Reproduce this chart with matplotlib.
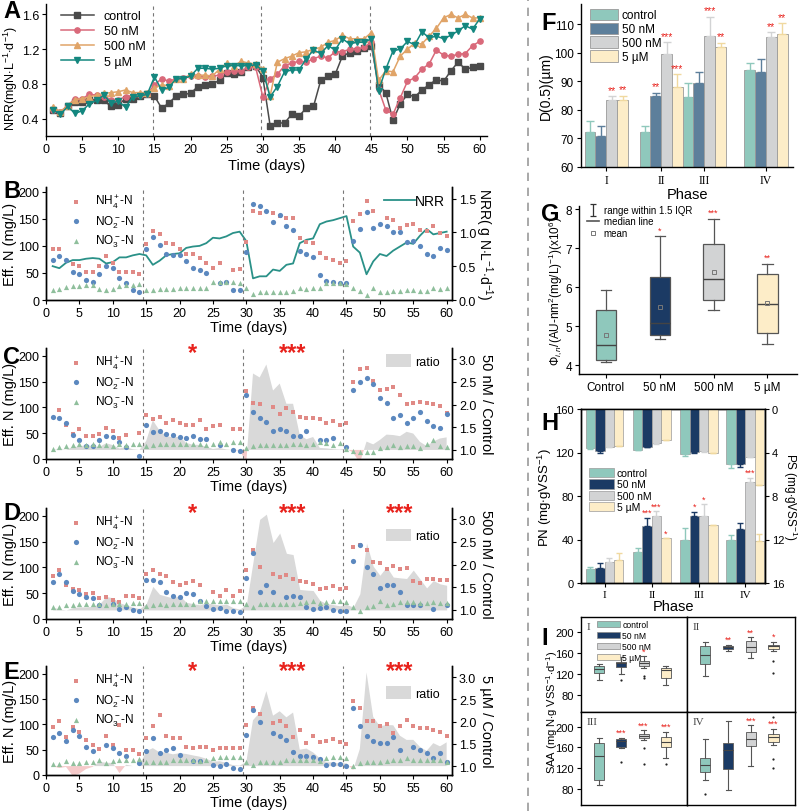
import numpy as np
import matplotlib
matplotlib.use('Agg')
import matplotlib.pyplot as plt
from matplotlib.patches import Patch
from matplotlib.lines import Line2D
from matplotlib.path import Path

plt.rcParams['font.family'] = ['Liberation Sans', 'DejaVu Sans']
plt.rcParams['mathtext.fontset'] = 'custom'
plt.rcParams['mathtext.rm'] = 'Liberation Sans'
plt.rcParams['mathtext.it'] = 'Liberation Sans:italic'
plt.rcParams['mathtext.bf'] = 'Liberation Sans:bold'
plt.rcParams['axes.linewidth'] = 1.0
plt.rcParams['xtick.major.size'] = 3
plt.rcParams['ytick.major.size'] = 3
plt.rcParams['xtick.major.pad'] = 2
plt.rcParams['ytick.major.pad'] = 2

nan = np.nan
days = np.arange(1, 61)

# ---------- A: nitrogen removal rate (mgN/L/d) ----------
nrr_ctrl = [0.50, 0.47, 0.55, 0.59, 0.59, 0.61, 0.62, 0.61, 0.54, 0.56, 0.63, 0.63, 0.66, 0.68,
            0.66, 0.52, 0.58, 0.66, 0.68, 0.69, 0.77, 0.79, 0.80, 0.84, 0.92, 0.91, 0.94, 0.99, 1.01,
            0.87, 0.32, 0.35, 0.35, 0.45, 0.43, 0.52, 0.54, 0.84, 0.89, 0.91, 1.12, 1.16, 1.18, 1.21, 1.24,
            0.79, 0.70, 0.38, 0.57, 0.68, 0.65, 0.73, 0.79, 0.85, 0.83, 0.95, 1.05, 0.97, 0.99, 1.01]
nrr_50n = [0.50, 0.48, 0.55, 0.63, 0.63, 0.68, 0.67, 0.65, 0.62, 0.62, 0.65, 0.67, 0.67, 0.68,
           0.79, 0.86, 0.83, 0.86, 0.87, 0.89, 0.89, 0.88, 0.89, 0.90, 0.94, 0.95, 0.95, 0.99, 0.99,
           0.65, 0.86, 0.91, 1.01, 1.04, 1.06, 1.05, 1.09, 1.12, 1.10, 1.17, 1.17, 1.20, 1.20, 1.22, 1.28,
           0.74, 0.50, 0.45, 0.64, 0.83, 0.87, 0.97, 1.03, 1.19, 1.13, 1.12, 1.14, 1.15, 1.24, 1.29]
nrr_500n = [0.53, 0.48, 0.55, 0.62, 0.63, 0.65, 0.67, 0.69, 0.70, 0.71, 0.73, 0.70, 0.70, 0.70,
            0.75, 0.79, 0.78, 0.86, 0.86, 0.91, 0.90, 0.90, 0.89, 0.97, 1.04, 1.01, 1.06, 1.04, 1.03,
            0.97, 0.66, 1.05, 1.09, 1.12, 1.16, 1.17, 1.20, 1.22, 1.28, 1.30, 1.36, 1.32, 1.32, 1.32, 1.39,
            0.84, 0.95, 0.94, 1.12, 1.20, 1.27, 1.26, 1.35, 1.44, 1.56, 1.60, 1.56, 1.60, 1.56, 1.56]
nrr_5u = [0.50, 0.45, 0.54, 0.46, 0.49, 0.57, 0.61, 0.67, 0.58, 0.60, 0.53, 0.65, 0.66, 0.68,
          0.88, 0.73, 0.76, 0.86, 0.86, 0.89, 0.98, 0.98, 0.97, 0.98, 1.01, 1.01, 1.01, 1.01, 1.02,
          0.95, 0.65, 0.77, 0.94, 0.96, 0.96, 1.09, 1.19, 1.15, 1.24, 1.19, 1.32, 1.26, 1.28, 1.28, 1.32,
          0.72, 0.97, 1.18, 1.20, 1.29, 1.25, 1.40, 1.33, 1.35, 1.32, 1.36, 1.41, 1.47, 1.43, 1.55]

# ---------- B-E: effluent N (mg/L) ----------
nh4_ctrl = [94, 95, nan, 67, 63, 51, 52, 62, 81, 69, 52, 52, 52, 48,
            103, 128, 122, 106, 103, 94, 85, 86, 78, 69, 60, 68, nan, 56, 58,
            108, 165, 160, nan, 160, 155, 152, 152, 114, 108, 105, 87, 77, 74, 69, 72,
            147, 159, 183, 164, nan, 152, 148, 134, 138, 141, 129, 127, 137, 123, 118]
no2_ctrl = [74, 81, 74, 51, 48, 37, 33, 49, 62, 59, 41, 31, 19, 15,
            94, 117, 101, 86, 83, 83, 72, 60, 56, 50, nan, 32, 33, 18, 18,
            88, 177, 174, 165, 145, 157, 137, 129, 91, 85, 80, 46, 35, 33, 32, 31,
            110, 131, 162, 134, 141, 137, 125, 125, 108, 110, 99, 86, 81, 96, 92]
no3_ctrl = [18, 21, 24, 25, 26, 27, 27, 20, 18, 20, 26, 27, 28, 29,
            19, 19, 20, 20, 21, 23, 23, 23, 23, 23, 33, 33, 33, 33, 32,
            23, 12, 14, 15, 15, 14, 15, 17, 23, 20, 23, 23, 32, 32, 31, 30,
            22, 17, 10, 23, 14, 15, 17, 17, 18, 18, 17, 17, 23, 20, 23]

nh4_50n = [nan, 95, 65, 48, 59, 44, 45, 48, 60, 54, 41, 47, nan, 50,
           85, 77, 81, 70, 75, 69, 66, 65, 75, 59, 63, 65, nan, 58, 58,
           131, 108, 106, nan, 100, 88, 98, 92, 81, 79, 79, 77, 70, 74, 66, 70,
           150, 174, 177, 152, 134, 135, 139, 123, 106, 108, 111, 108, 106, 102, 90]
no2_50n = [81, 80, 70, 46, 37, 25, 26, 37, 45, 43, 32, 24, nan, 5,
           66, 53, 55, 48, 46, 43, 41, 44, 39, 39, nan, 27, nan, 17, 15,
           124, 92, 79, 71, 55, 59, 54, 45, 45, 55, nan, 37, 37, 40, nan, 24,
           134, 150, 156, 145, 119, 108, 79, 86, 70, 79, 92, 74, 63, 60, 88]
no3_50n = [19, 23, 26, 28, 30, 28, 30, 27, 28, 26, 30, 28, 29, 30,
           25, 28, 30, 29, 30, 29, 30, 29, 29, 28, 30, 32, 30, 33, 33,
           21, 25, 27, 28, 27, 28, 27, 29, 30, 28, 29, 32, 31, 27, 31, 19,
           15, 14, 14, 14, 21, 23, 28, 23, 26, 26, 21, 30, 37, 26, 23]

nh4_500n = [84, 94, 66, 58, 56, 48, 50, 41, 43, 37, 32, 44, 44, 41,
            87, 95, 87, 83, 71, 66, 69, 73, 65, nan, 52, 45, 57, 45, 54,
            95, 134, 100, nan, 87, 82, 86, 77, 73, 71, 68, 58, 61, 63, 59, 61,
            140, 144, 134, 110, 108, 97, 102, 97, 98, 74, 69, 77, 77, 76, 76]
no2_500n = [71, 87, 71, 55, 48, 43, 41, 28, nan, 30, 19, 24, 17, 16,
            75, 76, 72, 52, 45, 42, 50, 48, 34, 25, 19, 21, 15, 15, 14,
            79, 128, 52, 66, 53, nan, 42, 44, 43, 24, 19, 21, 23, 17, 16, 16,
            113, 144, 100, 87, 61, 66, 65, 52, 27, 27, 27, nan, 19, nan, 28]
no3_500n = [23, 24, 27, 28, 29, 29, 30, 30, 28, 29, 30, 30, 31, 31,
            26, 27, 29, 28, 30, 30, 29, 30, 34, 34, 34, 34, 34, 34, 34,
            29, 23, 29, 29, 29, 29, 30, 30, 31, 32, 34, 31, 32, 34, 34, 32,
            24, 16, 23, 26, 34, 28, 29, 32, 32, 32, 31, 31, 32, 31, 31]

nh4_5u = [94, 106, 74, 95, 85, 69, 60, 51, 76, 60, 98, 50, 50, 41,
          73, 96, 118, 77, 73, 72, 56, 54, 56, 56, 50, 54, 54, 53, 54,
          99, 133, 120, nan, 102, 107, 96, 74, 89, 64, 77, 66, 68, 71, 66, 61,
          146, 132, 106, 106, 96, 100, 83, 96, 108, 97, 92, 92, 89, 84, 77]
no2_5u = [74, 83, 68, 89, 77, 56, 47, nan, 59, 53, 43, 38, nan, 24,
          48, 73, 43, 50, 53, 40, nan, 28, 28, nan, 20, 18, 22, 13, 12,
          79, 128, 105, nan, 82, 76, 70, 46, 38, 38, 35, 31, 20, 22, 22, 18,
          133, 96, 76, 68, 63, 64, 74, 50, nan, 56, 50, 43, 33, 43, 26]
no3_5u = [22, 22, 27, 23, 23, 25, 26, 30, 24, 27, 30, 30, 30, 31,
          26, 26, 26, 26, 30, 30, 30, 30, 28, 30, 33, 35, 35, 35, 35,
          26, 20, 25, 25, 26, 25, 30, 30, 30, 30, 30, 27, 33, 35, 35, 33,
          18, 24, 25, 25, 26, 27, 30, 30, 33, 30, 30, 30, 30, 30, 26]

# ---------- F: D(0.5) (um) per phase ----------
phases = ['I', 'II', 'III', 'IV']
groups = ['control', '50 nM', '500 nM', '5 µM']
d50_mean = [[72.2, 70.7, 83.3, 83.3], [72.3, 84.8, 99.6, 87.9],
            [84.6, 89.2, 105.8, 101.9], [93.9, 93.1, 105.4, 106.4]]
d50_err = [[4.0, 3.7, 1.4, 1.5], [1.9, 1.2, 4.0, 4.5],
           [4.9, 3.9, 6.8, 1.5], [2.3, 4.5, 1.7, 3.8]]
d50_sig = [['', '', '**', '**'], ['', '**', '***', '***'],
           ['', '', '***', '**'], ['', '', '**', '**']]

# ---------- G: Phi boxplot ----------
g_cats = ['Control', '50 nM', '500 nM', '5 µM']
g_lo = [4.08, 4.68, 5.40, 4.55]
g_q1 = [4.12, 4.78, 5.66, 4.82]
g_med = [4.52, 5.07, 6.20, 5.57]
g_q3 = [5.40, 6.27, 7.10, 6.33]
g_hi = [5.92, 7.30, 7.75, 6.60]
g_mean = [4.76, 5.50, 6.38, 5.58]
g_sig = ['', '*', '***', '**']

# ---------- H: PN / PS ----------
pn_mean = [[13, 13.5, 19, 21], [28.5, 52.5, 61.5, 41], [39.5, 62, 62, 53.5], [39.5, 49.5, 92.5, 38.5]]
pn_err = [[1.5, 4.5, 4, 7], [3.5, 7.5, 4.5, 0], [11, 3.5, 10.5, 0], [4.5, 5.5, 4, 6.5]]
pn_sig = [['', '', '', ''], ['', '***', '***', '*'], ['', '*', '*', ''], ['', '', '***', '']]
ps_mean = [[3.58, 3.88, 3.46, 3.43], [3.73, 3.46, 3.15, 2.81], [4.16, 3.95, 3.88, 4.04], [5.08, 5.05, 4.37, 6.97]]
ps_err = [[0.09, 0.12, 0.05, 0.0], [0.05, 0.05, 0.06, 0.0], [0.18, 0.08, 0.03, 0.03], [0.3, 0.3, 0.05, 0.0]]

# ---------- I: SAA boxplots (per phase: control, 50 nM, 500 nM, 5 uM) ----------
saa_lo = [[109, 120, 131, 100], [116, 164, 151, 164], [86, 159, 175, 140], [97, 77, 124, 165]]
saa_q1 = [[123, 133, 136, 112], [139, 168, 162, 168], [96, 160, 178, 160], [113, 119, 163, 171]]
saa_med = [[130, 141, 141, 128], [157, 171, 172, 173], [143, 172, 182, 170], [125, 155, 176, 181]]
saa_q3 = [[135, 144, 144.5, 132], [174.5, 173, 183, 176], [168, 176, 186, 181], [140, 168, 191, 186]]
saa_hi = [[139, 152, 154, 136], [181, 176, 190, 181], [179, 178, 193, 190], [176, 211, 203, 196]]
saa_out = [[[], [109], [117, 112], []], [[], [], [], [146, 122]],
           [[], [132], [158, 128], [128]], [[70], [], [], [219, 137, 120]]]
saa_sig = [['', '', '*', ''], ['', '**', '**', '*'], ['', '***', '***', '***'], ['', '', '***', '***']]

# ---------- styles ----------
line_cols = ['#4a4a4a', '#d9697a', '#e0a468', '#14877f']
line_mk = ['s', 'o', '^', 'v']
c_nh4, c_no2, c_no3 = '#e08a86', '#5b88bf', '#8fbf9c'
c_nrr = '#2a9188'
bar_cols_F = ['#8fc8bc', '#5d7f9b', '#d2d3d4', '#fdedc8']
bar_cols = ['#8fc8bc', '#1b3a64', '#d2d3d4', '#fdedc8']
W, H = 800, 812


def rect(l, t, r, b):
    return [l / W, 1 - b / H, (r - l) / W, (b - t) / H]


def phase_lines(ax, xs):
    for x in xs:
        ax.axvline(x, color='#777777', ls=(0, (3, 3)), lw=0.8, zorder=0)


fig = plt.figure(figsize=(8, 8.12), dpi=100)

# ===== A =====
axA = fig.add_axes(rect(46, 5, 487, 137))
for vals, col, mk, lab in zip([nrr_ctrl, nrr_50n, nrr_500n, nrr_5u], line_cols, line_mk, groups):
    axA.plot(days, vals, color=col, marker=mk, ms=3.8, lw=1.1, label=lab)
phase_lines(axA, [14.8, 29.8, 44.8])
axA.set_xlim(0, 61)
axA.set_ylim(0.2, 1.72)
axA.set_xticks(range(0, 61, 5))
axA.set_yticks([0.4, 0.8, 1.2, 1.6])
axA.tick_params(labelsize=9)
for s in ['top', 'right']:
    axA.spines[s].set_visible(False)
axA.set_xlabel('Time (days)', fontsize=10.5, labelpad=2)
axA.set_ylabel(r'NRR(mgN$\cdot$L$^{-1}$$\cdot$d$^{-1}$)', fontsize=9, labelpad=1)
axA.yaxis.set_label_coords(-0.058, 0.44)
axA.legend(loc='upper left', frameon=False, fontsize=9, handlelength=2.6,
           borderaxespad=0.1, labelspacing=0.25, bbox_to_anchor=(0.02, 1.0))

# ===== B =====
axB = fig.add_axes(rect(46, 188, 452, 301))
axB2 = axB.twinx()
axB2.plot(days, nrr_ctrl, color=c_nrr, lw=1.3, label='NRR')
axB.scatter(days, nh4_ctrl, marker='s', s=11, color=c_nh4, lw=0, label=r'NH$_4^+$-N')
axB.scatter(days, no2_ctrl, marker='o', s=14, color=c_no2, lw=0, label=r'NO$_2^-$-N')
axB.scatter(days, no3_ctrl, marker='^', s=14, color=c_no3, lw=0, label=r'NO$_3^-$-N')
axB.set_zorder(axB2.get_zorder() + 1)
axB.patch.set_visible(False)
phase_lines(axB, [14.5, 29.5, 44.5])
axB.set_xlim(0, 60.8)
axB.set_ylim(0, 209)
axB2.set_ylim(0, 1.67)
axB.set_xticks(range(0, 61, 5))
axB.set_yticks([0, 50, 100, 150, 200])
axB2.set_yticks([0, 0.5, 1.0, 1.5])
axB.tick_params(labelsize=9)
axB2.tick_params(labelsize=9)
axB.spines['top'].set_visible(False)
axB2.spines['top'].set_visible(False)
axB.set_xlabel('Time (days)', fontsize=10.5, labelpad=1)
axB.set_ylabel('Eff. N (mg/L)', fontsize=10.5, labelpad=1)
axB2.set_ylabel(r'NRR( g N$\cdot$L$^{-1}$$\cdot$d$^{-1}$)', fontsize=10, rotation=270, labelpad=13)
axB.legend(loc='upper left', frameon=False, fontsize=8.5, handletextpad=0.6,
           borderaxespad=0.1, labelspacing=0.25, bbox_to_anchor=(0.03, 1.0))
axB2.legend(loc='upper right', frameon=False, fontsize=10, handlelength=2.2,
            handletextpad=0.0, borderaxespad=0.1)


# ===== C, D, E =====
def conc_panel(box, nh4, no2, no3, nrr, ratio_label, stars, ratio_anchor):
    ax = fig.add_axes(rect(*box))
    ax2 = ax.twinx()
    ratio = np.array(nrr) / np.array(nrr_ctrl)
    ax2.fill_between(days, ratio, 1.0, where=ratio >= 1.0, interpolate=True,
                     color='#d9d9d9', lw=0, label='ratio')
    ax2.fill_between(days, ratio, 1.0, where=ratio < 1.0, interpolate=True,
                     color='#f5caca', lw=0)
    ax.scatter(days, nh4, marker='s', s=11, color=c_nh4, lw=0, label=r'NH$_4^+$-N')
    ax.scatter(days, no2, marker='o', s=14, color=c_no2, lw=0, label=r'NO$_2^-$-N')
    ax.scatter(days, no3, marker='^', s=14, color=c_no3, lw=0, label=r'NO$_3^-$-N')
    ax.set_zorder(ax2.get_zorder() + 1)
    ax.patch.set_visible(False)
    phase_lines(ax, [14.5, 29.5, 44.5])
    ax.set_xlim(0, 60.8)
    ax.set_ylim(0, 215)
    ax2.set_ylim(0.8, 3.25)
    ax.set_xticks(range(0, 61, 5))
    ax.set_yticks([0, 50, 100, 150, 200])
    ax2.set_yticks([1.0, 1.5, 2.0, 2.5, 3.0])
    ax.tick_params(labelsize=9)
    ax2.tick_params(labelsize=9)
    ax.spines['top'].set_visible(False)
    ax2.spines['top'].set_visible(False)
    ax.set_xlabel('Time (days)', fontsize=10.5, labelpad=1)
    ax.set_ylabel('Eff. N (mg/L)', fontsize=10.5, labelpad=1)
    ax2.set_ylabel(ratio_label, fontsize=10.5, rotation=270, labelpad=12)
    ax.legend(loc='upper left', frameon=False, fontsize=8.5, handletextpad=0.6,
              borderaxespad=0.1, labelspacing=0.25, bbox_to_anchor=(0.03, 1.0))
    ax2.legend(loc='upper right', frameon=False, fontsize=9, handlelength=2.0,
               handleheight=1.2, handletextpad=0.3, borderaxespad=0.1,
               bbox_to_anchor=ratio_anchor)
    for x, s in stars:
        ax.text(x, 207, s, color='#e8221c', fontsize=17, fontweight='bold',
                ha='center', va='center')
    return ax


conc_panel((46, 349, 452, 460), nh4_50n, no2_50n, no3_50n, nrr_50n, '50 nM / Control',
           [(22, '*'), (37, '***')], (0.985, 1.0))
conc_panel((46, 509, 452, 620), nh4_500n, no2_500n, no3_500n, nrr_500n, '500 nM / Control',
           [(22, '*'), (37, '***'), (53, '***')], (0.985, 0.87))
conc_panel((46, 667, 452, 776), nh4_5u, no2_5u, no3_5u, nrr_5u, r'5 µM / Control',
           [(22, '*'), (37, '***'), (53, '***')], (0.985, 0.87))

# ===== F =====
axF = fig.add_axes(rect(581, 5, 793, 168))
centersF = [2.34, 7.42, 11.4, 17.1]
offs = [-1.5, -0.5, 0.5, 1.5]
for j in range(4):
    xs = [c + offs[j] for c in centersF]
    vals = [d50_mean[p][j] for p in range(4)]
    errs = [d50_err[p][j] for p in range(4)]
    axF.bar(xs, vals, width=1.0, color=bar_cols_F[j], edgecolor='#9a9a9a', lw=0.6,
            label=groups[j], yerr=[[0] * 4, errs], ecolor=bar_cols_F[j] if j != 3 else '#f0d9a0',
            error_kw=dict(capsize=3, elinewidth=1.0, capthick=1.0))
    for p in range(4):
        if d50_sig[p][j]:
            axF.text(xs[p], vals[p] + errs[p] + 0.6, d50_sig[p][j], color='#e8221c',
                     fontsize=7.5, ha='center', va='bottom')
axF.set_xlim(0, 19.6)
axF.set_ylim(60, 117)
axF.set_xticks(centersF)
axF.set_xticklabels(phases, family='Liberation Serif', fontsize=9)
axF.set_yticks([60, 70, 80, 90, 100, 110])
axF.tick_params(labelsize=8.5)
for s in ['top', 'right']:
    axF.spines[s].set_visible(False)
axF.set_xlabel('Phase', fontsize=10.5, labelpad=1)
axF.set_ylabel('D(0.5)(µm)', fontsize=10, labelpad=1)
axF.legend(loc='upper left', frameon=False, fontsize=8.5, handlelength=2.4, handleheight=1.1,
           borderaxespad=0.0, labelspacing=0.1, handletextpad=0.3, bbox_to_anchor=(0.02, 1.0))

# ===== G =====
axG = fig.add_axes(rect(579, 207, 797, 375))
statsG = [dict(whislo=g_lo[i], q1=g_q1[i], med=g_med[i], q3=g_q3[i], whishi=g_hi[i],
               mean=g_mean[i], fliers=[]) for i in range(4)]
bpG = axG.bxp(statsG, positions=[1, 2, 3, 4], widths=0.38, patch_artist=True, showmeans=True,
              meanprops=dict(marker='s', mfc='none', mec='#777777', ms=3, mew=0.7),
              medianprops=dict(color='#444444', lw=1.0),
              whiskerprops=dict(color='#555555', lw=0.9),
              capprops=dict(color='#555555', lw=0.9),
              boxprops=dict(edgecolor='#555555', lw=0.9))
for patch, col in zip(bpG['boxes'], bar_cols):
    patch.set_facecolor(col)
for i in range(4):
    if g_sig[i]:
        axG.text(i + 1, g_hi[i] + 0.05, g_sig[i], color='#e8221c', fontsize=6.5,
                 ha='center', va='bottom')
axG.set_xlim(0.5, 4.55)
axG.set_ylim(3.77, 8.08)
axG.set_xticks([1, 2, 3, 4])
axG.set_xticklabels(g_cats, fontsize=8.5)
axG.set_yticks([4, 5, 6, 7, 8])
axG.tick_params(labelsize=8.5)
for s in ['top', 'right']:
    axG.spines[s].set_visible(False)
axG.set_ylabel(r'$\Phi_{i,n}$/(AU-nm$^2$(mg/L)$^{-1}$)(x10$^6$)', fontsize=8.5, labelpad=1)
ibeam = Path([(-0.5, 1), (0.5, 1), (0, 1), (0, -1), (-0.5, -1), (0.5, -1)],
             [Path.MOVETO, Path.LINETO, Path.MOVETO, Path.LINETO, Path.MOVETO, Path.LINETO])
hG = [Line2D([], [], ls='none', marker=ibeam, ms=8, color='#333333', mew=0.9),
      Line2D([], [], color='#555555', lw=1.2),
      Line2D([], [], ls='none', marker='s', mfc='none', mec='#777777', ms=3, mew=0.7)]
axG.legend(hG, ['range within 1.5 IQR', 'median line', 'mean'], loc='upper left',
           frameon=False, fontsize=7, handlelength=1.2, handleheight=0.6, borderaxespad=0.0,
           labelspacing=0.15, handletextpad=0.5, bbox_to_anchor=(0.02, 1.03))

# ===== H =====
axH = fig.add_axes(rect(581, 410, 765, 584))
axH2 = axH.twinx()
centersH = [2.5, 7.5, 12.5, 17.4]
for j in range(4):
    xs = [c + offs[j] for c in centersH]
    pn = [pn_mean[p][j] for p in range(4)]
    pe = [pn_err[p][j] for p in range(4)]
    ps = [ps_mean[p][j] for p in range(4)]
    se = [ps_err[p][j] for p in range(4)]
    axH.bar(xs, pn, width=1.0, color=bar_cols[j], edgecolor='#9a9a9a', lw=0.5, label=groups[j],
            yerr=[[0] * 4, pe], ecolor=bar_cols[j] if j != 3 else '#f0d9a0',
            error_kw=dict(capsize=2.5, elinewidth=1.0))
    axH2.bar(xs, ps, width=1.0, color=bar_cols[j], edgecolor='#9a9a9a', lw=0.5,
             yerr=[[0] * 4, se], ecolor=bar_cols[j] if j != 3 else '#f0d9a0',
             error_kw=dict(capsize=2.5, elinewidth=1.0))
    for p in range(4):
        if pn_sig[p][j]:
            axH.text(xs[p], pn[p] + pe[p] + 0.8, pn_sig[p][j], color='#e8221c',
                     fontsize=6.5, ha='center', va='bottom')
axH.set_xlim(0, 19.5)
axH.set_ylim(0, 160)
axH2.set_ylim(16, 0)
axH.set_xticks(centersH)
axH.set_xticklabels(phases, family='Liberation Serif', fontsize=9)
axH.set_yticks([0, 40, 80, 120, 160])
axH2.set_yticks([0, 4, 8, 12, 16])
axH.tick_params(labelsize=8)
axH2.tick_params(labelsize=8)
axH.set_xlabel('Phase', fontsize=10.5, labelpad=0)
axH.set_ylabel(r'PN (mg$\cdot$gVSS$^{-1}$)', fontsize=9.5, labelpad=1)
fig.text(790 / W, 1 - 497 / H, r'PS (mg$\cdot$gVSS$^{-1}$)', fontsize=8.5, rotation=270,
         ha='center', va='center')
axH.legend(loc='upper left', frameon=False, fontsize=7.5, handlelength=2.4, handleheight=1.0,
           borderaxespad=0.0, labelspacing=0.1, handletextpad=0.3, bbox_to_anchor=(0.02, 0.685))

# ===== I =====
boxesI = [(581, 618, 687, 713), (687, 618, 795, 713), (581, 713, 687, 806), (687, 713, 795, 806)]
for p in range(4):
    ax = fig.add_axes(rect(*boxesI[p]))
    st = [dict(whislo=saa_lo[p][i], q1=saa_q1[p][i], med=saa_med[p][i], q3=saa_q3[p][i],
               whishi=saa_hi[p][i], fliers=saa_out[p][i]) for i in range(4)]
    bp = ax.bxp(st, positions=[1, 2, 3, 4], widths=0.45, patch_artist=True,
                medianprops=dict(color='#444444', lw=0.8),
                whiskerprops=dict(color='#555555', lw=0.8),
                capprops=dict(color='#555555', lw=0.8),
                boxprops=dict(edgecolor='#666666', lw=0.7),
                flierprops=dict(marker='o', ms=1.6, mfc='#222222', mec='none'))
    for patch, col in zip(bp['boxes'], bar_cols):
        patch.set_facecolor(col)
    for i in range(4):
        if saa_sig[p][i]:
            ax.text(i + 1, saa_hi[p][i] + 2, saa_sig[p][i], color='#e8221c', fontsize=6.5,
                    ha='center', va='bottom')
    ax.set_xlim(0.19, 4.95)
    ax.set_ylim(48, 229)
    ax.set_xticks([])
    ax.text(0.05, 0.95, phases[p], transform=ax.transAxes, family='Liberation Serif',
            fontsize=8, ha='left', va='top', color='#444444')
    if p % 2 == 0:
        ax.set_yticks([80, 120, 160, 200])
        ax.tick_params(labelsize=8)
    else:
        ax.set_yticks([])
    if p == 0:
        hI = [Patch(facecolor=c, edgecolor='#888888', lw=0.5) for c in bar_cols]
        ax.legend(hI, groups, loc='upper left', frameon=False, fontsize=6.2,
                  handlelength=2.6, handleheight=0.7, borderaxespad=0.0,
                  labelspacing=0.2, handletextpad=0.3, bbox_to_anchor=(0.12, 1.0))
fig.text(552 / W, 1 - 712 / H, r'SAA (mg N$\cdot$g VSS$^{-1}$$\cdot$d$^{-1}$)', fontsize=8,
         rotation=90, ha='center', va='center')

# divider and panel letters
fig.add_artist(Line2D([528 / W, 528 / W], [0, 1], transform=fig.transFigure,
                      color='#9a9a9a', ls=(0, (5, 4)), lw=1.2))
for lab, x, y in [('A', 3, 0), ('B', 3, 180), ('C', 3, 346), ('D', 3, 502), ('E', 3, 661),
                  ('F', 541, 12), ('G', 541, 203), ('H', 541, 412), ('I', 541, 627)]:
    fig.text(x / W, 1 - y / H, lab, fontsize=17, fontweight='bold', ha='left', va='top')

fig.savefig('out.png', dpi=100)
